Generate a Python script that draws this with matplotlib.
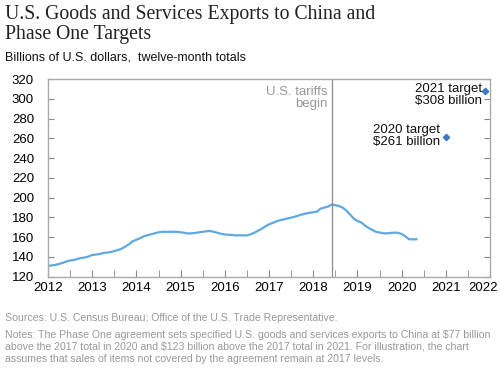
import numpy as np
import matplotlib.pyplot as plt

plt.rcParams['font.family'] = 'Liberation Sans'

# twelve-month totals, monthly, Jan 2012 .. May 2020 (billions of USD)
start_year = 2012
exports = [
    131, 131.5, 132, 133, 134, 135.5, 136.5, 137, 138, 139, 139.5, 140.5,          # 2012
    142, 142.5, 143, 144, 144.5, 145, 146, 147, 148.5, 150.5, 153, 156,            # 2013
    157.5, 159, 161, 162, 163, 164, 165, 165.5, 165.5, 165.5, 165.5, 165.5,        # 2014
    165, 164.5, 163.8, 164, 164.3, 165, 165.5, 166, 166.3, 165.5, 164.5, 163.5,    # 2015
    162.8, 162.5, 162.3, 161.8, 162, 161.8, 161.9, 163, 164.5, 166.5, 168.5, 171,  # 2016
    173, 174.5, 176, 177.3, 178, 179, 179.8, 180.8, 182, 183, 184, 184.8,          # 2017
    185.3, 185.8, 189, 190, 191, 193, 192.5, 191.5, 190, 187, 183, 179,            # 2018
    176.5, 175, 172, 169.5, 167.5, 165.5, 164.8, 164, 163.9, 164.3, 164.6, 164.5,  # 2019
    163.3, 161, 158, 157.8, 158,                                                   # 2020
]
months = start_year + np.arange(len(exports)) / 12.0

target_x = [2021.0, 2021.88]
target_y = [261, 308]
target_labels = ['2020 target\n$261 billion', '2021 target\n$308 billion']

tariff_date = 2018.42

fig = plt.figure(figsize=(5, 3.86), dpi=100)
ax = fig.add_axes([0.096, 0.283, 0.884, 0.512])

ax.plot(months, exports, color='#5fa8e3', linewidth=1.6)
ax.plot(target_x, target_y, linestyle='none', marker='D', markersize=3.2,
        color='#3b7dc4')

ax.axvline(tariff_date, color='#8c8c8c', linewidth=0.9)
ax.text(tariff_date - 0.1, 313.5, 'U.S. tariffs\nbegin', ha='right', va='top',
        fontsize=9.5, color='#999999', linespacing=1.0)

ax.text(target_x[0] - 0.13, target_y[0] + 1, target_labels[0], ha='right',
        va='center', fontsize=9.5, color='#111111', linespacing=1.0)
ax.text(target_x[1] - 0.06, target_y[1] - 4, target_labels[1], ha='right',
        va='center', fontsize=9.5, color='#111111', linespacing=1.0)

ax.set_xlim(2012, 2022)
ax.set_ylim(120, 320)
ax.set_xticks(range(2012, 2023))
ax.set_xticks(np.arange(2012.5, 2022, 1), minor=True)
ax.set_yticks(range(120, 321, 20))
ax.tick_params(axis='x', which='both', direction='in', length=5, color='#888888',
               labelsize=9.5, pad=4)
ax.tick_params(axis='y', direction='in', length=4, color='#888888',
               labelsize=9.5, right=True)
for lab in ax.get_yticklabels():
    lab.set_horizontalalignment('center')
ax.yaxis.set_tick_params(pad=18)
# last year label is pulled in so it stays inside the figure
xlabels = ax.get_xticklabels()
xlabels[-1].set_horizontalalignment('right')
xlabels[-1].set_x(2022)
import matplotlib.transforms as mtransforms
offset = mtransforms.ScaledTranslation(8 / 100, 0, fig.dpi_scale_trans)
xlabels[-1].set_transform(xlabels[-1].get_transform() + offset)
for s in ax.spines.values():
    s.set_color('#aaaaaa')
    s.set_linewidth(1.0)

fig.text(0.01, 0.988, 'U.S. Goods and Services Exports to China and\nPhase One Targets',
         ha='left', va='top', fontsize=14.2, family='Liberation Serif', color='#222222',
         linespacing=1.1)
fig.text(0.01, 0.866, 'Billions of U.S. dollars,  twelve-month totals', ha='left',
         va='top', fontsize=9, color='#111111')

fig.text(0.01, 0.19, 'Sources: U.S. Census Bureau; Office of the U.S. Trade Representative.',
         ha='left', va='top', fontsize=7.6, color='#999999')
fig.text(0.01, 0.146,
         'Notes: The Phase One agreement sets specified U.S. goods and services exports to China at $77 billion\n'
         'above the 2017 total in 2020 and $123 billion above the 2017 total in 2021. For illustration, the chart\n'
         'assumes that sales of items not covered by the agreement remain at 2017 levels.',
         ha='left', va='top', fontsize=7.6, color='#999999', linespacing=1.25)

fig.savefig('out.png', dpi=100)
